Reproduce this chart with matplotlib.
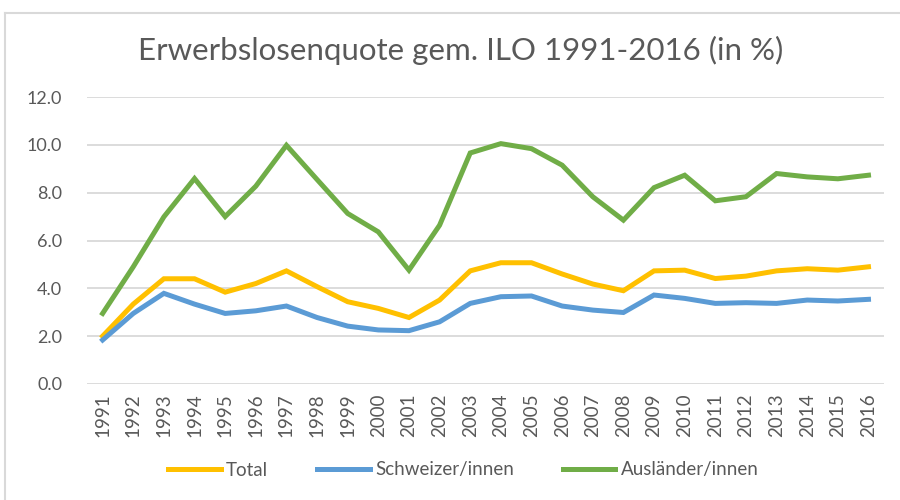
import matplotlib
matplotlib.use("Agg")
import matplotlib.pyplot as plt
from matplotlib.lines import Line2D

# ----------------------------
# Data
# ----------------------------
years = [str(y) for y in range(1991, 2017)]

total = [2.0, 3.34, 4.4, 4.4, 3.84, 4.2, 4.73, 4.07, 3.44, 3.16, 2.78, 3.51,
         4.73, 5.07, 5.07, 4.6, 4.18, 3.9, 4.73, 4.76, 4.41, 4.51, 4.73, 4.82,
         4.76, 4.9]
schweizer = [1.84, 2.95, 3.79, 3.34, 2.95, 3.06, 3.26, 2.78, 2.42, 2.26, 2.23, 2.6,
             3.37, 3.65, 3.68, 3.26, 3.09, 2.99, 3.72, 3.58, 3.37, 3.4, 3.37, 3.51,
             3.47, 3.54]
auslaender = [2.95, 4.9, 6.99, 8.59, 7.0, 8.27, 9.98, 8.55, 7.13, 6.36, 4.76, 6.64,
              9.66, 10.05, 9.84, 9.15, 7.83, 6.85, 8.21, 8.73, 7.66, 7.83, 8.8, 8.66,
              8.58, 8.73]

series_names = ["Total", "Schweizer/innen", "Ausländer/innen"]
series_colors = ["#FFC000", "#5B9BD5", "#70AD47"]

plt.rcParams["font.family"] = ["Lato", "DejaVu Sans"]
TXT = "#595959"

fig = plt.figure(figsize=(9, 5), dpi=100)
ax = fig.add_axes([0.097, 0.232, 0.885, 0.574])

x = list(range(len(years)))
for vals, name, col in zip([total, schweizer, auslaender], series_names, series_colors):
    ax.plot(x, vals, color=col, linewidth=3.6, solid_joinstyle="miter", label=name)

ax.set_xlim(-0.5, len(years) - 0.5)
ax.set_ylim(0, 12)
ax.set_yticks([0, 2, 4, 6, 8, 10, 12])
ax.set_yticklabels([f"{v:.1f}" for v in [0, 2, 4, 6, 8, 10, 12]], fontsize=13, color=TXT)
ax.set_xticks(x)
ax.set_xticklabels(years, rotation=90, fontsize=13.5, color=TXT)
ax.tick_params(axis="both", length=0, pad=7)
ax.tick_params(axis="y", pad=18)
ax.grid(axis="y", color="#D9D9D9", linewidth=1.3)
ax.set_axisbelow(True)
for s in ax.spines.values():
    s.set_visible(False)

fig.text(0.512, 0.90, "Erwerbslosenquote gem. ILO 1991-2016 (in %)",
         ha="center", va="center", fontsize=22.5, color=TXT)

handles = [Line2D([], [], color=c, linewidth=3.6) for c in series_colors]
fig.legend(handles, series_names, loc="center", bbox_to_anchor=(0.515, 0.06),
           ncol=3, frameon=False, fontsize=13.5, labelcolor=TXT,
           handlelength=2.8, handletextpad=0.3, columnspacing=2.6)

# outer chart frame (top and left edges visible)
fig.add_artist(Line2D([5 / 900, 1], [1 - 13 / 500] * 2, transform=fig.transFigure,
                      color="#D9D9D9", linewidth=1.5))
fig.add_artist(Line2D([5 / 900] * 2, [0, 1 - 13 / 500], transform=fig.transFigure,
                      color="#D9D9D9", linewidth=1.5))

fig.savefig("out.png", dpi=100)
